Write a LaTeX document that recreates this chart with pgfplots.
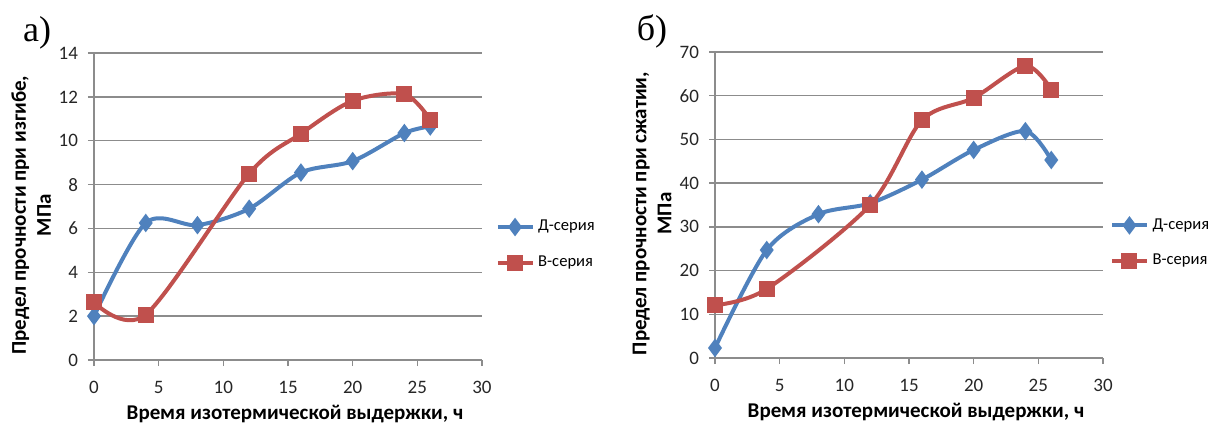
\documentclass[border=0pt]{standalone}
\usepackage{fontspec}
\setmainfont{Carlito}
\newfontfamily\seriffont{Liberation Serif}
\usepackage{pgfplots}
\pgfplotsset{compat=1.18}
\definecolor{sblue}{RGB}{79,129,189}
\definecolor{sred}{RGB}{192,80,77}
\definecolor{gridgray}{RGB}{140,140,140}
\pgfplotsset{myaxis/.style={
 scale only axis, width=194pt,
 xmin=0, xmax=30, xtick={0,5,...,30},
 axis x line*=bottom, axis y line*=left,
 axis line style={gridgray, line width=0.7pt, -},
 ymajorgrids, grid style={gridgray, line width=0.7pt},
 tick align=outside, major tick length=3pt, tick style={gridgray, line width=0.7pt},
 ticklabel style={font=\fontsize{9.5}{11}\selectfont, text=black!85},
 xticklabel style={yshift=-4pt},
 yticklabel style={xshift=-1.5pt},
 /pgf/number format/assume math mode=true,
 label style={font=\bfseries\fontsize{10.5}{12.5}\selectfont},
 xlabel={Время изотермической выдержки, ч},
 xlabel style={at={(axis description cs:0.518,-0.193)}, anchor=base},
 ylabel style={at={(axis description cs:-0.162,0.472)}, anchor=center, align=center},
 legend style={draw=none, fill=none, font=\fontsize{8.3}{10}\selectfont,
   anchor=west, row sep=7pt, inner sep=0pt},
 legend cell align=left,
 every axis plot/.append style={line width=2pt, smooth},
}}
\begin{document}
\begin{tikzpicture}
\path[use as bounding box] (0,0) rectangle (605pt,-212.5pt);
\node[font=\seriffont\fontsize{18}{20}\selectfont] at (18.5pt,-16.5pt) {а)};
\node[font=\seriffont\fontsize{18}{20}\selectfont] at (326pt,-15.5pt) {б)};
\begin{axis}[myaxis, at={(47pt,-180pt)}, anchor=south west, height=153.5pt,
  ymin=0, ymax=14, ytick={0,2,...,14},
  legend style={at={(axis description cs:1.035,0.375)}},
  ylabel={Предел прочности при изгибе,\\МПа}]
\addplot[sblue, mark=diamond*, mark size=3pt, mark options={solid}] coordinates {(0,2.0)(4,6.25)(8,6.15)(12,6.9)(16,8.55)(20,9.07)(24,10.35)(26,10.65)};
\addlegendentry{Д-серия}
\addplot[sred, mark=square*, mark size=3pt, mark options={solid}] coordinates {(0,2.63)(4,2.07)(12,8.5)(16,10.32)(20,11.82)(24,12.12)(26,10.96)};
\addlegendentry{В-серия}
\end{axis}
\begin{axis}[myaxis, at={(357.5pt,-179pt)}, anchor=south west, height=153pt,
  ymin=0, ymax=70, ytick={0,10,...,70},
  legend style={at={(axis description cs:1.018,0.375)}},
  ylabel={Предел прочности при сжатии,\\МПа}]
\addplot[sblue, mark=diamond*, mark size=3pt, mark options={solid}] coordinates {(0,2.3)(4,24.7)(8,32.9)(12,35.4)(16,40.8)(20,47.6)(24,51.9)(26,45.3)};
\addlegendentry{Д-серия}
\addplot[sred, mark=square*, mark size=3pt, mark options={solid}] coordinates {(0,12.1)(4,15.8)(12,35.0)(16,54.4)(20,59.5)(24,66.8)(26,61.4)};
\addlegendentry{В-серия}
\end{axis}
\end{tikzpicture}
\end{document}
